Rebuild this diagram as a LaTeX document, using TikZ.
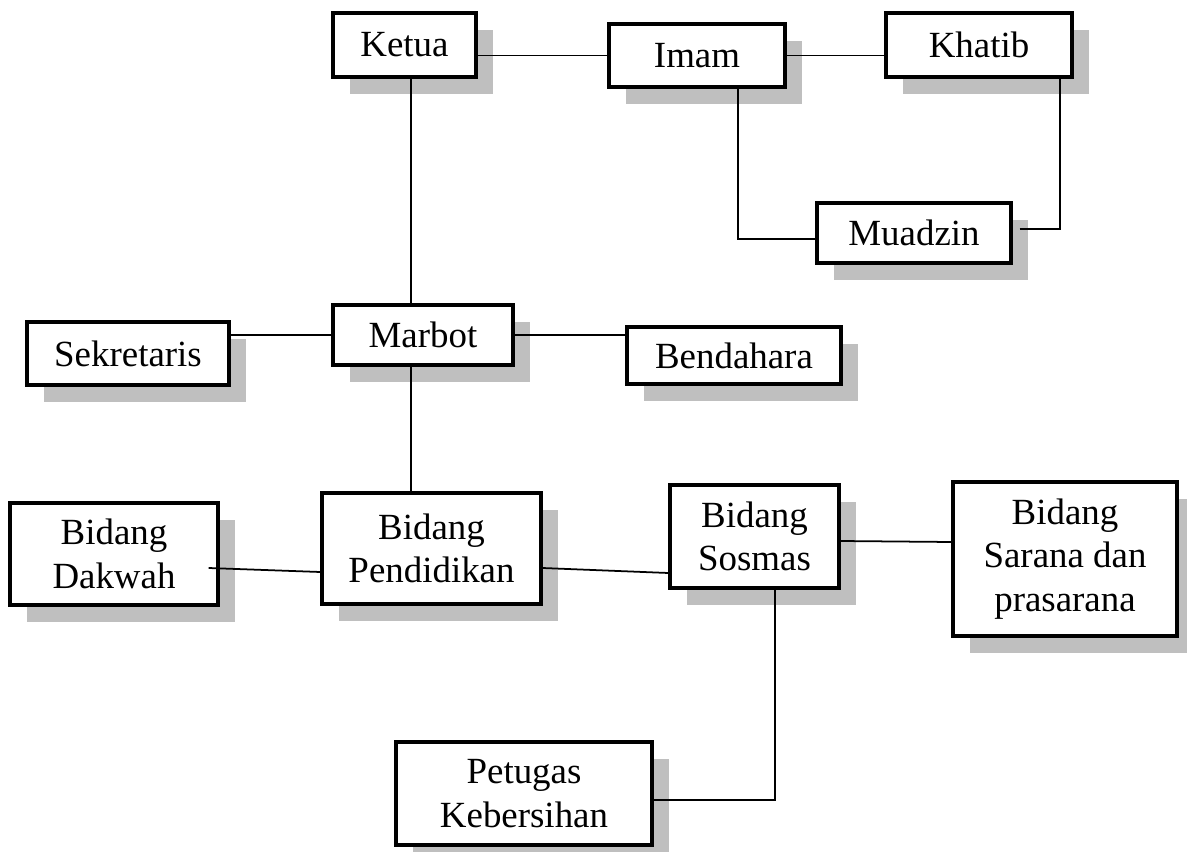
\documentclass[tikz,border=0pt]{standalone}
\usepackage{fontspec}
\setmainfont{Liberation Serif}
\usetikzlibrary{shadows}

\begin{document}
\begin{tikzpicture}[
    kotak/.style={draw, line width=0.9pt, fill=white, align=center, inner sep=0pt,
        font=\fontsize{10.5}{12.4}\selectfont,
        drop shadow={shadow xshift=0.17cm, shadow yshift=-0.17cm, fill=black!25, opacity=1}},
    garis/.style={line width=0.5pt}
]
    \useasboundingbox (0,0) rectangle (11.87,-8.52);
    % baris atas
    \node[kotak, minimum width=1.43cm, minimum height=0.64cm] (ketua) at (4.045,-0.45) {Ketua};
    \node[kotak, minimum width=1.76cm, minimum height=0.63cm] (imam) at (6.97,-0.555) {Imam};
    \node[kotak, minimum width=1.86cm, minimum height=0.64cm] (khatib) at (9.79,-0.45) {Khatib};
    \node[kotak, minimum width=1.94cm, minimum height=0.60cm] (muadzin) at (9.14,-2.33) {Muadzin};
    % baris tengah
    \node[kotak, minimum width=1.80cm, minimum height=0.60cm] (marbot) at (4.23,-3.35) {Marbot};
    \node[kotak, minimum width=2.02cm, minimum height=0.63cm] (sekretaris) at (1.28,-3.535) {Sekretaris};
    \node[kotak, minimum width=2.14cm, minimum height=0.57cm] (bendahara) at (7.34,-3.555) {Bendahara};
    % bidang
    \node[kotak, minimum width=2.19cm, minimum height=1.11cm] (pendidikan) at (4.315,-5.485) {Bidang\\Pendidikan};
    \node[kotak, minimum width=2.08cm, minimum height=1.02cm] (dakwah) at (1.14,-5.54) {Bidang\\Dakwah};
    \node[kotak, minimum width=1.69cm, minimum height=1.03cm] (sosmas) at (7.545,-5.365) {Bidang\\Sosmas};
    \node[kotak, minimum width=2.24cm, minimum height=1.54cm] (sarana) at (10.65,-5.59) {Bidang\\Sarana dan\\prasarana};
    \node[kotak, minimum width=2.56cm, minimum height=1.03cm] (petugas) at (5.24,-7.935) {Petugas\\Kebersihan};

    % garis penghubung
    \draw[garis] (ketua.east |- imam) -- (imam.west);
    \draw[garis] (imam.east) -- (imam.east -| khatib.west);
    \draw[garis] ([xshift=0.41cm]imam.south) |- ([yshift=-0.06cm]muadzin.west);
    \draw[garis] ([xshift=0.07cm, yshift=0.04cm]muadzin.east) -| ([xshift=0.81cm]khatib.south);
    \draw[garis] ([xshift=0.065cm]ketua.south) -- ([xshift=0.065cm]ketua.south |- marbot.north);
    \draw[garis] (marbot.west) -- (marbot.west -| sekretaris.east);
    \draw[garis] (marbot.east) -- (marbot.east -| bendahara.west);
    \draw[garis] ([xshift=-0.12cm]marbot.south) -- ([xshift=-0.12cm]marbot.south |- pendidikan.north);
    \draw[garis] ([xshift=-0.11cm, yshift=-0.14cm]dakwah.east) -- ([yshift=-0.235cm]pendidikan.west);
    \draw[garis] ([yshift=-0.195cm]pendidikan.east) -- ([yshift=-0.365cm]sosmas.west);
    \draw[garis] ([yshift=-0.045cm]sosmas.east) -- ([yshift=0.17cm]sarana.west);
    \draw[garis] ([xshift=0.205cm]sosmas.south) |- ([yshift=-0.065cm]petugas.east);
\end{tikzpicture}
\end{document}
